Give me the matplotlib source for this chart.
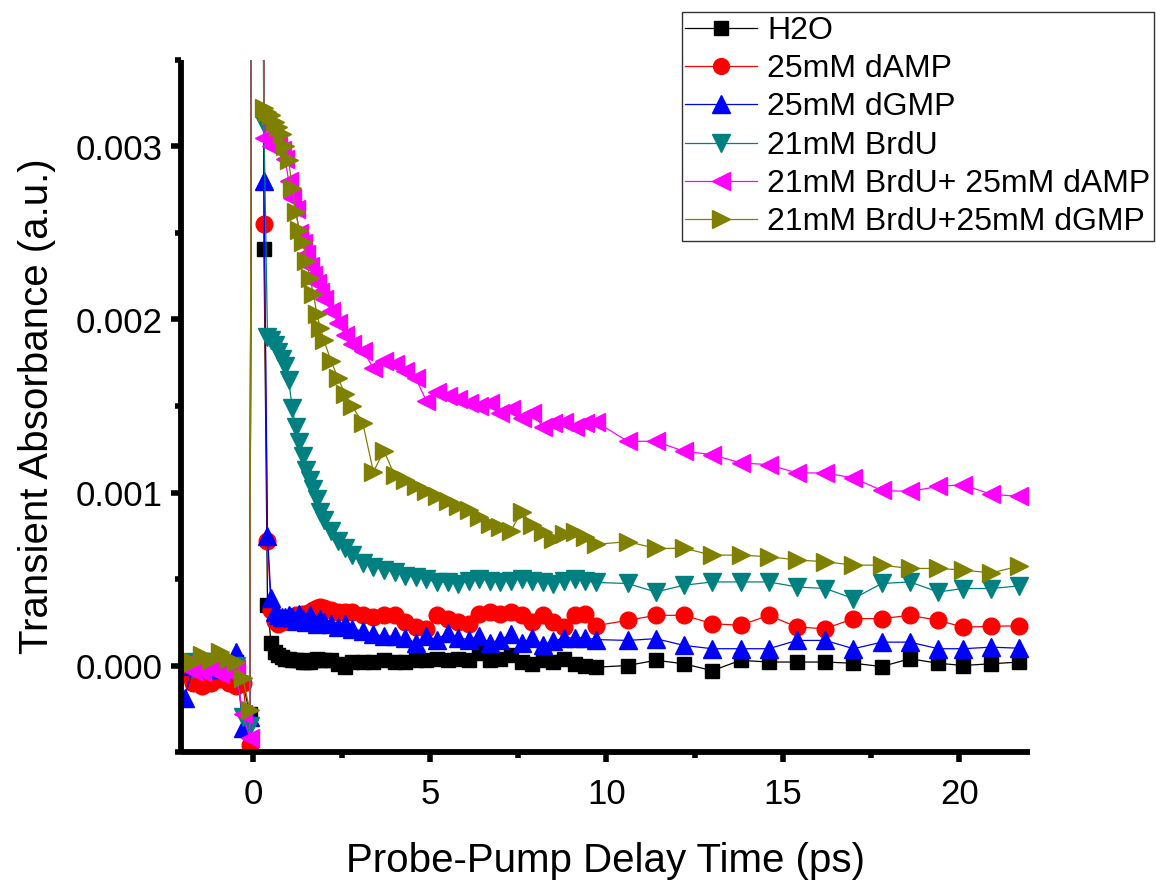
import matplotlib
matplotlib.use("Agg")
import matplotlib.pyplot as plt
from matplotlib.ticker import MultipleLocator, FormatStrFormatter
from matplotlib.lines import Line2D

plt.rcParams['font.family'] = ['Liberation Sans', 'DejaVu Sans']

# Pump-probe delay times (ps)
delay = [-1.95, -1.7, -1.45, -1.2, -0.95, -0.7, -0.5, -0.3, -0.1,
         0.1,
         0.3, 0.4, 0.5, 0.6, 0.7, 0.8, 0.9, 1.0, 1.1, 1.2, 1.3, 1.4, 1.5,
         1.6, 1.7, 1.8, 1.9, 2.0,
         2.2, 2.4, 2.6, 2.8,
         3.1, 3.4, 3.7, 4.0, 4.3, 4.6, 4.9, 5.2, 5.5, 5.8, 6.1, 6.4, 6.7,
         7.0, 7.3, 7.6, 7.9, 8.2, 8.5, 8.8, 9.1, 9.4, 9.7,
         10.6, 11.4, 12.2, 13.0, 13.8, 14.6, 15.4, 16.2, 17.0, 17.8, 18.6,
         19.4, 20.1, 20.9, 21.7]

# Transient absorbance, in units of 1e-3
h2o = [0.02, 0.0, 0.03, 0.01, 0.02, 0.0, 0.02, -0.10, -0.28,
       20.0,
       2.41, 0.35, 0.13, 0.08, 0.06, 0.05, 0.04, 0.04, 0.03, 0.03, 0.03, 0.02, 0.02,
       0.02, 0.03, 0.04, 0.03, 0.03,
       0.03, 0.01, -0.01, 0.02,
       0.02, 0.02, 0.03, 0.02, 0.02, 0.03, 0.03, 0.04, 0.03, 0.04, 0.03, 0.07, 0.03,
       0.04, 0.06, 0.02, 0.01, 0.03, 0.02, 0.04, 0.01, 0.0, -0.01,
       0.0, 0.03, 0.01, -0.03, 0.03, 0.02, 0.02, 0.02, 0.013, -0.006, 0.039,
       0.013, 0.0, 0.01, 0.02]

damp = [-0.05, -0.10, -0.12, -0.10, -0.08, -0.10, -0.12, -0.10, -0.46,
        20.0,
        2.55, 0.72, 0.32, 0.26, 0.24, 0.25, 0.26, 0.27, 0.28, 0.29, 0.29, 0.30, 0.30,
        0.31, 0.32, 0.33, 0.34, 0.33,
        0.32, 0.31, 0.31, 0.31,
        0.29, 0.28, 0.29, 0.29, 0.25, 0.22, 0.21, 0.29, 0.27, 0.25, 0.24, 0.30, 0.31,
        0.30, 0.31, 0.29, 0.25, 0.29, 0.25, 0.22, 0.29, 0.30, 0.23,
        0.261, 0.290, 0.290, 0.242, 0.232, 0.290, 0.222, 0.213, 0.271, 0.271, 0.290,
        0.261, 0.222, 0.226, 0.23]

dgmp = [-0.19, 0.0, 0.02, -0.02, 0.01, 0.0, 0.08, -0.36, -0.30,
        20.0,
        2.80, 0.75, 0.39, 0.31, 0.29, 0.28, 0.28, 0.29, 0.28, 0.26, 0.30, 0.27, 0.25,
        0.29, 0.26, 0.24, 0.27, 0.25,
        0.24, 0.22, 0.24, 0.21,
        0.20, 0.18, 0.17, 0.17, 0.16, 0.13, 0.17, 0.15, 0.19, 0.16, 0.15, 0.17, 0.13,
        0.15, 0.18, 0.13, 0.16, 0.12, 0.14, 0.16, 0.16, 0.16, 0.15,
        0.145, 0.155, 0.116, 0.097, 0.097, 0.097, 0.145, 0.145, 0.097, 0.135, 0.135,
        0.097, 0.097, 0.106, 0.10]

brdu = [0.02, -0.02, 0.0, 0.02, 0.01, -0.03, 0.0, -0.30, -0.35,
        20.0,
        3.13, 1.90, 1.88, 1.85, 1.81, 1.77, 1.73, 1.65, 1.49, 1.38, 1.29, 1.21, 1.13,
        1.07, 1.02, 0.96, 0.89, 0.84,
        0.78, 0.72, 0.68, 0.64,
        0.59, 0.57, 0.55, 0.54, 0.52, 0.51, 0.50, 0.48, 0.48, 0.47, 0.49, 0.50, 0.49,
        0.48, 0.49, 0.50, 0.49, 0.48, 0.47, 0.49, 0.50, 0.49, 0.48,
        0.474, 0.425, 0.464, 0.483, 0.483, 0.483, 0.454, 0.445, 0.387, 0.474, 0.483,
        0.425, 0.445, 0.445, 0.46]

brdu_damp = [0.01, -0.03, -0.04, -0.02, -0.05, -0.04, -0.02, -0.28, -0.42,
             20.0,
             3.05, 3.05, 3.00, 3.00, 3.00, 2.98, 2.93, 2.80, 2.70, 2.64, 2.50, 2.44, 2.38,
             2.31, 2.26, 2.21, 2.16, 2.12,
             2.05, 1.98, 1.91, 1.86,
             1.82, 1.72, 1.76, 1.74, 1.70, 1.66, 1.53, 1.58, 1.56, 1.54, 1.52, 1.50, 1.52,
             1.46, 1.48, 1.43, 1.46, 1.38, 1.40, 1.41, 1.38, 1.40, 1.41,
             1.296, 1.296, 1.238, 1.219, 1.171, 1.161, 1.113, 1.113, 1.084, 1.012, 1.006,
             1.035, 1.045, 0.99, 0.977]

brdu_dgmp = [0.03, 0.02, 0.06, 0.03, 0.08, 0.04, 0.02, -0.07, -0.26,
             20.0,
             3.22, 3.20, 3.18, 3.14, 3.11, 3.07, 3.00, 2.92, 2.76, 2.62, 2.52, 2.45, 2.34,
             2.24, 2.15, 2.03, 1.95, 1.88,
             1.76, 1.66, 1.57, 1.50,
             1.40, 1.12, 1.24, 1.10, 1.07, 1.04, 1.01, 0.98, 0.95, 0.92, 0.90, 0.86, 0.82,
             0.80, 0.78, 0.89, 0.81, 0.77, 0.73, 0.76, 0.77, 0.74, 0.70,
             0.716, 0.677, 0.677, 0.638, 0.638, 0.629, 0.610, 0.600, 0.580, 0.580, 0.561,
             0.561, 0.552, 0.535, 0.575]

labels = ['H2O', '25mM dAMP', '25mM dGMP', '21mM BrdU',
          '21mM BrdU+ 25mM dAMP', '21mM BrdU+25mM dGMP']
colors = ['#000000', '#FF0000', '#0000FF', '#008080', '#FF00FF', '#808000']
markers = ['s', 'o', '^', 'v', '<', '>']
msizes = [10.5, 12, 13, 13, 13, 13]
series = [h2o, damp, dgmp, brdu, brdu_damp, brdu_dgmp]

fig = plt.figure(figsize=(11.56, 8.8), dpi=100)
ax = fig.add_axes([181 / 1156, 128 / 880, (1030 - 181) / 1156, (752 - 60) / 880])

handles = []
for vals, lab, col, mk, ms in zip(series, labels, colors, markers, msizes):
    y = [v * 1e-3 for v in vals]
    ax.plot(delay, y, color=col, lw=0.9, marker=mk, ms=ms, mec=col, mfc=col,
            clip_on=True)
    handles.append(Line2D([], [], color=col, lw=0.9, marker=mk, ms=ms * 0.95,
                          mec=col, mfc=col))

ax.set_xlim(-2.05, 22)
ax.set_ylim(-0.0005, 0.0035)

for side in ('top', 'right'):
    ax.spines[side].set_visible(False)
for side in ('left', 'bottom'):
    ax.spines[side].set_linewidth(4.2)
    ax.spines[side].set_capstyle('butt')

ax.xaxis.set_major_locator(MultipleLocator(5))
ax.xaxis.set_minor_locator(MultipleLocator(2.5))
ax.yaxis.set_major_locator(MultipleLocator(0.001))
ax.yaxis.set_minor_locator(MultipleLocator(0.0005))
ax.yaxis.set_major_formatter(FormatStrFormatter('%.3f'))

ax.tick_params(which='major', direction='out', length=7, width=4, labelsize=25,
               pad=6)
ax.tick_params(which='minor', direction='out', length=4, width=4)
ax.tick_params(axis='x', which='major', pad=12)

ax.set_xlabel('Probe-Pump Delay Time (ps)', fontsize=29, labelpad=22)
ax.set_ylabel('Transient Absorbance (a.u.)', fontsize=29, labelpad=14)

leg = fig.legend(handles, labels, loc='upper right',
                 bbox_to_anchor=(1154 / 1156, 1 - 12 / 880),
                 bbox_transform=fig.transFigure, fontsize=23, frameon=True,
                 fancybox=False, framealpha=1, edgecolor='#333333',
                 handlelength=2.25, handletextpad=0.3, labelspacing=0.26,
                 borderpad=0.12, borderaxespad=0.0)
leg.get_frame().set_linewidth(1.0)

fig.savefig('out.png', dpi=100)
